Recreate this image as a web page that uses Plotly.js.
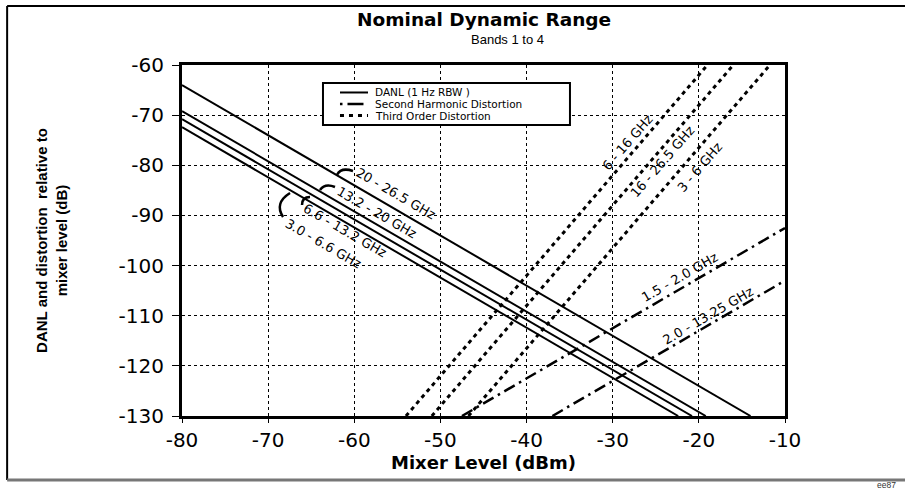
<!DOCTYPE html>
<html>
<head>
<meta charset="utf-8">
<script src="https://cdn.plot.ly/plotly-3.0.1.min.js"></script>
<style>html,body{margin:0;padding:0;background:#fff;}#chart{width:905px;height:490px;}</style>
</head>
<body>
<div id="chart"></div>
<script>
// ---- Data ----
const danlLabels = ['3.0 - 6.6 GHz', '6.6 - 13.2 GHz', '13.2 - 20 GHz', '20 - 26.5 GHz'];
const danlX = [[-80, -22.4], [-80, -20.8], [-80, -19.2], [-80, -14]];
const danlY = [[-72.4, -130], [-70.8, -130], [-69.2, -130], [-64, -130]];

const shiLabels = ['1.5 - 2.0 GHz', '2.0 - 13.25 GHz'];
const shiX = [[-47.5, -10], [-37, -10]];
const shiY = [[-130, -92.5], [-130, -103]];

const toiLabels = ['6 - 16 GHz', '16 - 26.5 GHz', '3 - 6 GHz'];
const toiX = [[-54, -19], [-51, -16], [-46.75, -11.75]];
const toiY = [[-130, -60], [-130, -60], [-130, -60]];

const xTickVals = [-80, -70, -60, -50, -40, -30, -20, -10];
const xTickText = ['-80', '-70', '-60', '-50', '-40', '-30', '-20', '-10'];
const yTickVals = [-130, -120, -110, -100, -90, -80, -70, -60];
const yTickText = ['-130', '-120', '-110', '-100', '-90', '-80', '-70', '-60'];

const legendNames = ['DANL (1 Hz RBW )', 'Second Harmonic Distortion', 'Third Order Distortion'];

// ---- Styles / positions ----
const FONT = 'DejaVu Sans, Verdana, sans-serif';
const FONT2 = 'Liberation Sans, Arial, Helvetica, sans-serif';
const danlStyle = {color: '#000', width: 2, dash: 'solid'};
const shiStyle = {color: '#000', width: 2.5, dash: '12px,5px,2.5px,5px'};
const toiStyle = {color: '#000', width: 3, dash: '4px,4px'};

const traces = [];
danlLabels.forEach((n, i) => traces.push({x: danlX[i], y: danlY[i], mode: 'lines', name: 'DANL ' + n, line: danlStyle, showlegend: false, hoverinfo: 'skip'}));
shiLabels.forEach((n, i) => traces.push({x: shiX[i], y: shiY[i], mode: 'lines', name: 'SHI ' + n, line: shiStyle, showlegend: false, hoverinfo: 'skip'}));
toiLabels.forEach((n, i) => traces.push({x: toiX[i], y: toiY[i], mode: 'lines', name: 'TOI ' + n, line: toiStyle, showlegend: false, hoverinfo: 'skip'}));

// label positions (data coords) and angles
const danlLabelPos = [[-63.6, -95.5], [-61.1, -93.1], [-57.4, -89.5], [-55.2, -85.7]];
const shiLabelPos = [[-22.3, -102.3], [-18.9, -109.9]];
const toiLabelPos = [[-28.3, -75.4], [-24.2, -79.3], [-19.9, -80.5]];

const annotations = [];
const lblFont = {family: FONT, size: 13, color: '#000'};
danlLabels.forEach((t, i) => annotations.push({x: danlLabelPos[i][0], y: danlLabelPos[i][1], xref: 'x', yref: 'y', text: t, showarrow: false, textangle: 30, font: lblFont, borderpad: 0}));
shiLabels.forEach((t, i) => annotations.push({x: shiLabelPos[i][0], y: shiLabelPos[i][1], xref: 'x', yref: 'y', text: t, showarrow: false, textangle: -30, font: lblFont, borderpad: 0}));
toiLabels.forEach((t, i) => annotations.push({x: toiLabelPos[i][0], y: toiLabelPos[i][1], xref: 'x', yref: 'y', text: t, showarrow: false, textangle: -49, font: lblFont, borderpad: 0}));

// subtitle
annotations.push({x: 0.539, y: 1.074, xref: 'paper', yref: 'paper', text: 'Bands 1 to 4', showarrow: false, font: {family: FONT2, size: 13, color: '#000'}, xanchor: 'center', yanchor: 'middle'});
// footer code
annotations.push({x: 1.169, y: -0.197, xref: 'paper', yref: 'paper', text: 'ee87', showarrow: false, font: {family: FONT2, size: 8.5, color: '#333'}, xanchor: 'center', yanchor: 'middle', borderpad: 0});

// custom legend
const legRows = [0.9217, 0.8889, 0.8561];
const legStyles = [danlStyle, {color: '#000', width: 2.5, dash: '2.5px,5px,16px,5px'}, {color: '#000', width: 3, dash: '4px,5px'}];
legendNames.forEach((t, i) => annotations.push({x: 0.318, y: legRows[i], xref: 'paper', yref: 'paper', text: t, showarrow: false, xanchor: 'left', yanchor: 'middle', borderpad: 0, font: {family: FONT, size: 10.5, color: '#000'}}));

const shapes = [
  // outer frame lines
  {type: 'line', xref: 'paper', yref: 'paper', x0: -0.290, x1: 1.2, y0: 1.168, y1: 1.168, line: {color: '#000', width: 2}},
  {type: 'line', xref: 'paper', yref: 'paper', x0: -0.290, x1: -0.290, y0: 1.168, y1: -0.182, line: {color: '#000', width: 2}},
  {type: 'line', xref: 'paper', yref: 'paper', x0: -0.290, x1: 1.2, y0: -0.182, y1: -0.182, line: {color: '#777', width: 3}},
  // legend box
  {type: 'rect', xref: 'paper', yref: 'paper', x0: 0.2338, x1: 0.6434, y0: 0.8291, y1: 0.9487, fillcolor: '#fff', line: {color: '#000', width: 2}, layer: 'above'},
  // brackets linking DANL labels to lines
  {type: 'path', xref: 'x', yref: 'y', path: 'M -62.0,-81.9 Q -61.54,-80.34 -60.15,-81.14', line: {color: '#000', width: 2.5}},
  {type: 'path', xref: 'x', yref: 'y', path: 'M -63.98,-84.93 Q -63.4,-83.5 -62.24,-84.33', line: {color: '#000', width: 2.5}},
  {type: 'path', xref: 'x', yref: 'y', path: 'M -66.07,-87.92 Q -66.07,-86.33 -65.14,-86.33', line: {color: '#000', width: 2.5}},
  {type: 'path', xref: 'x', yref: 'y', path: 'M -68.27,-90.31 Q -69.32,-87.52 -67.46,-85.53', line: {color: '#000', width: 2.5}}
];
legStyles.forEach((s, i) => shapes.push({type: 'line', xref: 'paper', yref: 'paper', x0: 0.262, x1: 0.3085, y0: legRows[i], y1: legRows[i], line: s, layer: 'above'}));

const layout = {
  width: 905, height: 490,
  margin: {l: 182, r: 120, t: 65, b: 74},
  paper_bgcolor: '#fff', plot_bgcolor: '#fff',
  showlegend: false,
  title: {text: '<b>Nominal Dynamic Range</b>', font: {family: FONT, size: 18.5, color: '#000'}, x: 0.501, xref: 'paper', xanchor: 'center', y: 0.961, yref: 'container', yanchor: 'middle'},
  xaxis: {
    range: [-80, -10], tickvals: xTickVals, ticktext: xTickText,
    showgrid: true, gridcolor: '#000', griddash: 'dot', gridwidth: 1,
    showline: true, linecolor: '#000', linewidth: 3, mirror: true,
    ticks: 'outside', ticklen: 4, tickwidth: 1, tickcolor: '#000',
    zeroline: false, tickfont: {family: FONT, size: 20, color: '#000'},
    title: {text: '<b>Mixer Level (dBm)</b>', font: {family: FONT, size: 18, color: '#000'}, standoff: 6}
  },
  yaxis: {
    range: [-130, -60], tickvals: yTickVals, ticktext: yTickText,
    showgrid: true, gridcolor: '#000', griddash: 'dot', gridwidth: 1,
    showline: true, linecolor: '#000', linewidth: 3, mirror: true,
    ticks: 'outside', ticklen: 7, tickwidth: 1, tickcolor: '#000', ticklabelstandoff: 4,
    zeroline: false, tickfont: {family: FONT, size: 20, color: '#000'},
    title: {text: '<b>DANL and distortion  relative to<br>mixer level (dB)</b>', font: {family: FONT2, size: 15, color: '#000'}, standoff: 48}
  },
  annotations: annotations,
  shapes: shapes
};

Plotly.newPlot('chart', traces, layout, {staticPlot: true, displayModeBar: false});
</script>
</body>
</html>
